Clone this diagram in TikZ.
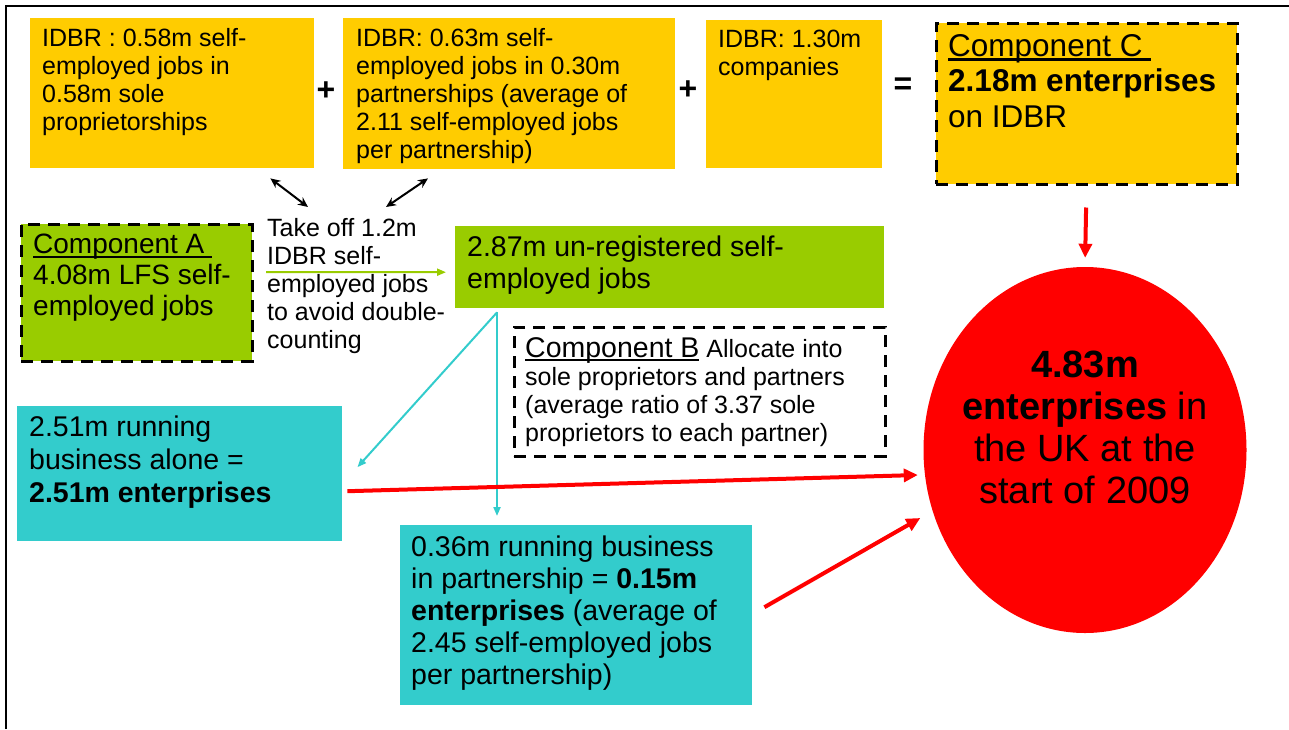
\documentclass[tikz,border=0pt]{standalone}
\usepackage{fontspec}
\setmainfont{Liberation Sans}
\usetikzlibrary{arrows.meta, shapes.geometric}
\usetikzlibrary{positioning}
\definecolor{idbryellow}{HTML}{FFCC00}
\definecolor{lfsgreen}{HTML}{99CC00}
\definecolor{splitteal}{HTML}{33CCCC}
% underline just under the baseline, as in the slide
\newcommand\compul[1]{\setbox0\hbox{#1}\rlap{\rule[-0.14em]{\wd0}{0.07em}}\box0}

\begin{document}
\begin{tikzpicture}[x=1pt, y=-1pt,
    box/.style={rectangle, inner sep=0, anchor=north west},
    dashbox/.style={box, draw=black, line width=3pt, dash pattern=on 12pt off 8pt},
    txt/.style={inner sep=0, anchor=north west, align=left},
    small/.style={font=\fontsize{25}{28}\selectfont},
    mid/.style={font=\fontsize{28.5}{32}\selectfont},
    big/.style={font=\fontsize{31.5}{35.5}\selectfont},
    sign/.style={inner sep=0, font=\fontsize{32}{36}\selectfont\bfseries},
    pair/.style={line width=2pt, {Stealth[length=10pt,width=9pt]}-{Stealth[length=10pt,width=9pt]}},
    greenarrow/.style={draw=lfsgreen, line width=2pt, -{Triangle[length=9pt,width=7pt]}},
    tealarrow/.style={draw=splitteal, line width=2pt, -{Triangle[length=9pt,width=7pt]}},
    redarrow/.style={draw=red, line width=4pt, -{Triangle[length=14pt,width=13pt]}}]
      \useasboundingbox (0,0) rectangle (1289,729);
      \draw[line width=2.5pt] (6,729) -- (6,6) -- (1289,6);

      % IDBR row: sole proprietors + partnerships + companies = Component C
      \node[box, fill=idbryellow, minimum width=284, minimum height=150] (idbrsole) at (30,18) {};
      \node[txt, small] (idbrsoletext) at (42,28) {IDBR : 0.58m self-\\employed jobs in\\0.58m sole\\proprietorships};
      \node[sign] (plusA) at (326,91) {+};

      \node[box, fill=idbryellow, minimum width=332, minimum height=151] (idbrpart) at (343,18) {};
      \node[txt, small] (idbrparttext) at (356,28) {IDBR: 0.63m self-\\employed jobs in 0.30m\\partnerships (average of\\2.11 self-employed jobs\\per partnership)};
      \node[sign] (plusB) at (688,90) {+};

      \node[box, fill=idbryellow, minimum width=176, minimum height=148] (idbrcomp) at (706,20) {};
      \node[txt, small] (idbrcomptext) at (718,30) {IDBR: 1.30m\\companies};
      \node[sign] (equalsC) at (903,86) {=};

      \node[dashbox, fill=idbryellow, minimum width=301, minimum height=161] (compC) at (934.5,21.5) {};
      \node[txt, big] (compCtext) at (948,34) {\compul{Component C\ }\\\textbf{2.18m enterprises}\\on IDBR};

      % Component A and the un-registered jobs
      \node[dashbox, fill=lfsgreen, minimum width=231, minimum height=137] (compA) at (19.5,222.5) {};
      \node[txt, font=\fontsize{28}{31}\selectfont] (compAtext) at (33,234) {\compul{Component A\ }\\4.08m LFS self-\\employed jobs};

      \node[txt, small] (takeoff) at (267,218) {Take off 1.2m\\IDBR self-\\employed jobs\\to avoid double-\\counting};

      \node[box, fill=lfsgreen, minimum width=429, minimum height=82] (unreg) at (455,226) {};
      \node[txt, mid] (unregtext) at (467,236) {2.87m un-registered self-\\employed jobs};

      % Component B split
      \node[dashbox, fill=white, minimum width=371, minimum height=129] (compB) at (512.5,325.5) {};
      \node[txt, small] (compBtext) at (525,337) {{\fontsize{28.5}{32}\selectfont\compul{Component B}} Allocate into\\sole proprietors and partners\\(average ratio of 3.37 sole\\proprietors to each partner)};

      \node[box, fill=splitteal, minimum width=325, minimum height=135] (alone) at (17,406) {};
      \node[txt, font=\fontsize{28.5}{33}\selectfont] (alonetext) at (29,416) {2.51m running\\business alone =\\\textbf{2.51m enterprises}};

      \node[box, fill=splitteal, minimum width=352, minimum height=180] (partner) at (400,525) {};
      \node[txt, mid] (partnertext) at (411,536) {0.36m running business\\in partnership = \textbf{0.15m}\\\textbf{enterprises} (average of\\2.45 self-employed jobs\\per partnership)};

      % Total
      \node[ellipse, fill=red, minimum width=323, minimum height=366, inner sep=0] (total) at (1085,450) {};
      \node[align=center, inner sep=0, font=\fontsize{38}{42}\selectfont] (totaltext) at (1085,427) {\textbf{4.83m}\\\textbf{enterprises} in\\the UK at the\\start of 2009};

      % Arrows
      \draw[pair] ([shift={(-44,10)}]idbrsole.south east) -- ([shift={(41,-11)}]takeoff.north west);
      \draw[pair] ([shift={(85,9)}]idbrpart.south west) -- ([shift={(119,-11)}]takeoff.north west);

      \coordinate (greenstart) at (266,272);
      \draw[greenarrow] (greenstart) -- ([shift={(-9,5)}]unreg.west);

      \coordinate (split) at ([shift={(42,4)}]unreg.south west);
      \draw[tealarrow] (split) -- ([shift={(15,-6.5)}]alone.east);
      \draw[tealarrow, shorten >=9pt] (split) -- (split |- partner.north);

      \draw[redarrow, shorten <=22pt, shorten >=9pt] (compC.south) -- (total.north);
      \draw[redarrow] ([shift={(5,17.5)}]alone.east) -- ([shift={(-5.5,25)}]total.west);
      \draw[redarrow] ([shift={(12,-8)}]partner.east) -- ([shift={(-3,68)}]total.west);
\end{tikzpicture}
\end{document}
